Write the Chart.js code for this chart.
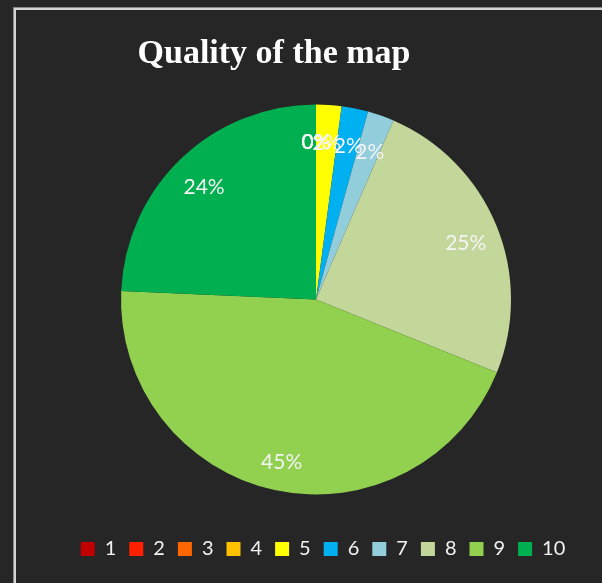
<!DOCTYPE html>
<html>
<head>
<meta charset="utf-8">
<script src="https://cdn.jsdelivr.net/npm/chart.js@4.4.1/dist/chart.umd.min.js"></script>
<style>
  html, body { margin: 0; padding: 0; background: #262626; }
  body { width: 602px; height: 583px; overflow: hidden; position: relative; }
  #frame {
    position: absolute; left: 14px; top: 8px; width: 620px; height: 600px;
    border-top: 2px solid #d4d4d4; border-left: 2px solid #d4d4d4;
    box-shadow: -1px -1px 0 #8a8a8a;
  }
  #wrap { position: absolute; left: 16px; top: 10px; width: 586px; height: 573px; }
</style>
</head>
<body>
<div id="frame"></div>
<div id="wrap"><canvas id="pie"></canvas></div>
<script>
const labels = ['1', '2', '3', '4', '5', '6', '7', '8', '9', '10'];
const shares = [0, 0, 0, 0, 2.1, 2.2, 2.2, 24.6, 44.6, 24.3];
const colors = ['#C00000', '#FF2000', '#FF6600', '#FFC000', '#FFFF00',
                '#00B0F0', '#92CDDC', '#C4D79B', '#92D050', '#00B050'];

// data labels placed near the rim, like Excel's default
const sliceLabels = {
  id: 'sliceLabels',
  afterDatasetsDraw(chart) {
    const ctx = chart.ctx;
    const meta = chart.getDatasetMeta(0);
    const total = shares.reduce((a, b) => a + b, 0);
    ctx.save();
    ctx.font = '21px Lato, "Open Sans", sans-serif';
    ctx.fillStyle = '#f4f4f4';
    ctx.textAlign = 'center';
    ctx.textBaseline = 'middle';
    meta.data.forEach((arc, i) => {
      const p = arc.getProps(['x', 'y', 'startAngle', 'endAngle', 'outerRadius'], true);
      const mid = (p.startAngle + p.endAngle) / 2;
      const r = p.outerRadius * 0.83;
      const pct = Math.round(shares[i] / total * 100) + '%';
      ctx.fillText(pct, p.x + Math.cos(mid) * r, p.y + Math.sin(mid) * r + 5);
    });
    ctx.restore();
  }
};

// title drawn slightly left of the plot centre, as in the original
const titleText = {
  id: 'titleText',
  afterDraw(chart) {
    const ctx = chart.ctx;
    ctx.save();
    ctx.font = 'bold 34px "Liberation Serif", "DejaVu Serif", serif';
    ctx.fillStyle = '#ffffff';
    ctx.textAlign = 'center';
    ctx.textBaseline = 'alphabetic';
    ctx.fillText('Quality of the map', 258, 53);
    ctx.restore();
  }
};

// nudge the legend a little right and up
const legendNudge = {
  id: 'legendNudge',
  afterLayout(chart) {
    const lg = chart.legend;
    lg.left += 7; lg.right += 7;
    lg.top -= 4; lg.bottom -= 4;
  }
};

new Chart(document.getElementById('pie'), {
  type: 'pie',
  data: {
    labels: labels,
    datasets: [{
      data: shares,
      backgroundColor: colors,
      borderWidth: 0,
      radius: 195
    }]
  },
  options: {
    responsive: true,
    maintainAspectRatio: false,
    animation: false,
    layout: { padding: { top: 59, bottom: 10, left: 14, right: 0 } },
    plugins: {
      legend: {
        position: 'bottom',
        labels: {
          color: '#f2f2f2',
          boxWidth: 14,
          boxHeight: 14,
          padding: 13,
          font: { size: 20, family: 'Lato, "Open Sans", sans-serif' }
        }
      },
      tooltip: { enabled: false }
    }
  },
  plugins: [sliceLabels, titleText, legendNudge]
});
</script>
</body>
</html>
